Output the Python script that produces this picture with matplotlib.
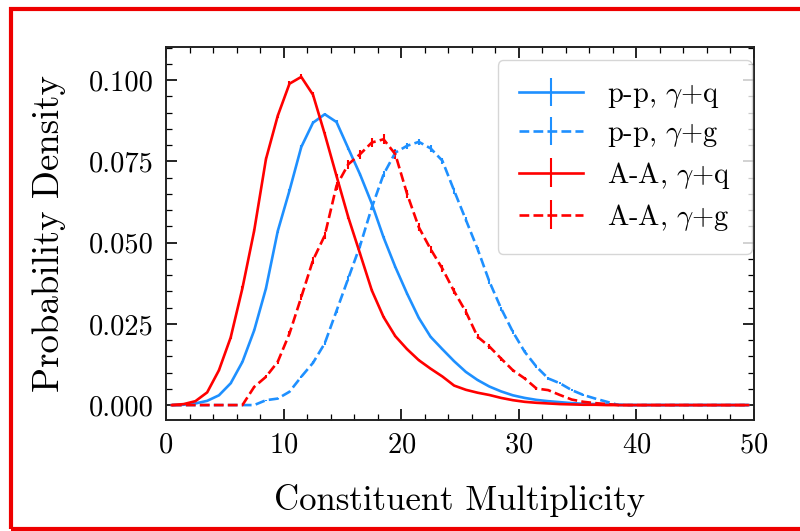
import numpy as np
import matplotlib
matplotlib.use("Agg")
import matplotlib.pyplot as plt
from matplotlib.patches import Rectangle

plt.rcParams['font.family'] = 'serif'
plt.rcParams['font.serif'] = ['cmr10', 'DejaVu Serif']
plt.rcParams['mathtext.fontset'] = 'cm'
plt.rcParams['axes.formatter.use_mathtext'] = True

# bin centres of the multiplicity histogram
mult = np.arange(0.5, 50.0, 1.0)

# p-p, gamma+q
pp_q = [0, 0.0001, 0.0005, 0.0013, 0.0030, 0.0067, 0.0133, 0.0230, 0.0359, 0.0535,
        0.0660, 0.0794, 0.0869, 0.0895, 0.0871, 0.0790, 0.0710, 0.0620, 0.0516, 0.0425,
        0.0343, 0.0268, 0.0210, 0.0172, 0.0135, 0.0102, 0.0077, 0.0057, 0.0042, 0.0030,
        0.0022, 0.0016, 0.0012, 0.0009, 0.0006, 0.0004, 0.0003, 0.0002, 0.0001, 0,
        0, 0, 0, 0, 0, 0, 0, 0, 0, 0]
pp_q_err = [0, 0, 0.0001, 0.0001, 0.0002, 0.0002, 0.0003, 0.0003, 0.0004, 0.0004,
            0.0005, 0.0005, 0.0005, 0.0005, 0.0005, 0.0005, 0.0005, 0.0004, 0.0004, 0.0004,
            0.0003, 0.0003, 0.0003, 0.0002, 0.0002, 0.0002, 0.0002, 0.0001, 0.0001, 0.0001,
            0.0001, 0.0001, 0.0001, 0, 0, 0, 0, 0, 0, 0,
            0, 0, 0, 0, 0, 0, 0, 0, 0, 0]

# p-p, gamma+g
pp_g = [0, 0, 0, 0, 0, 0, 0, 0, 0.0015, 0.0020,
        0.0041, 0.0087, 0.0130, 0.0190, 0.0290, 0.0390, 0.0490, 0.0608, 0.0710, 0.0777,
        0.0798, 0.0810, 0.0790, 0.0752, 0.0660, 0.0570, 0.0480, 0.0380, 0.0297, 0.0225,
        0.0164, 0.0118, 0.0082, 0.0067, 0.0046, 0.0031, 0.0020, 0.0010, 0, 0,
        0, 0, 0, 0, 0, 0, 0, 0, 0, 0]
pp_g_err = [0, 0, 0, 0, 0, 0, 0, 0, 0.0002, 0.0002,
            0.0003, 0.0004, 0.0005, 0.0006, 0.0007, 0.0008, 0.0008, 0.0009, 0.0009, 0.0010,
            0.0010, 0.0010, 0.0010, 0.0009, 0.0009, 0.0008, 0.0008, 0.0007, 0.0006, 0.0005,
            0.0005, 0.0004, 0.0004, 0.0003, 0.0003, 0.0002, 0.0002, 0.0001, 0, 0,
            0, 0, 0, 0, 0, 0, 0, 0, 0, 0]

# A-A, gamma+q
aa_q = [0, 0.0003, 0.0012, 0.0039, 0.0107, 0.0208, 0.0360, 0.0537, 0.0757, 0.0890,
        0.0989, 0.1010, 0.0955, 0.0834, 0.0705, 0.0578, 0.0466, 0.0353, 0.0271, 0.0212,
        0.0172, 0.0138, 0.0112, 0.0088, 0.0060, 0.0047, 0.0038, 0.0031, 0.0022, 0.0015,
        0.0010, 0.0007, 0.0005, 0.0003, 0.0002, 0.0001, 0.0001, 0, 0, 0,
        0, 0, 0, 0, 0, 0, 0, 0, 0, 0]
aa_q_err = [0, 0.0001, 0.0001, 0.0002, 0.0003, 0.0004, 0.0005, 0.0006, 0.0007, 0.0007,
            0.0008, 0.0008, 0.0007, 0.0007, 0.0006, 0.0006, 0.0005, 0.0005, 0.0004, 0.0004,
            0.0003, 0.0003, 0.0003, 0.0002, 0.0002, 0.0002, 0.0002, 0.0001, 0.0001, 0.0001,
            0.0001, 0, 0, 0, 0, 0, 0, 0, 0, 0,
            0, 0, 0, 0, 0, 0, 0, 0, 0, 0]

# A-A, gamma+g
aa_g = [0, 0, 0, 0, 0, 0, 0, 0.0056, 0.0087, 0.0133,
        0.0220, 0.0332, 0.0446, 0.0522, 0.0675, 0.0741, 0.0772, 0.0808, 0.0818, 0.0772,
        0.0650, 0.0547, 0.0480, 0.0420, 0.0350, 0.0287, 0.0210, 0.0180, 0.0143, 0.0107,
        0.0082, 0.0051, 0.0046, 0.0031, 0.0017, 0.0010, 0.0006, 0.0003, 0, 0,
        0, 0, 0, 0, 0, 0, 0, 0, 0, 0]
aa_g_err = [0, 0, 0, 0, 0, 0, 0, 0.0004, 0.0005, 0.0006,
            0.0008, 0.0009, 0.0011, 0.0012, 0.0013, 0.0014, 0.0014, 0.0015, 0.0015, 0.0014,
            0.0013, 0.0012, 0.0011, 0.0010, 0.0009, 0.0009, 0.0008, 0.0007, 0.0006, 0.0005,
            0.0005, 0.0004, 0.0003, 0.0003, 0.0002, 0.0002, 0.0001, 0.0001, 0, 0,
            0, 0, 0, 0, 0, 0, 0, 0, 0, 0]

labels = [r'p-p, $\gamma$+q', r'p-p, $\gamma$+g', r'A-A, $\gamma$+q', r'A-A, $\gamma$+g']

blue = '#1e90ff'
red = '#ff0000'

fig = plt.figure(figsize=(8.0, 5.31), dpi=100)
ax = fig.add_axes([0.2075, 0.209, 0.735, 0.7025])

ax.errorbar(mult, pp_q, yerr=pp_q_err, color=blue, lw=1.9, elinewidth=1.5, label=labels[0])
ax.errorbar(mult, pp_g, yerr=pp_g_err, color=blue, lw=1.9, elinewidth=1.5, ls='--', label=labels[1])
ax.errorbar(mult, aa_q, yerr=aa_q_err, color=red, lw=1.9, elinewidth=1.5, label=labels[2])
ax.errorbar(mult, aa_g, yerr=aa_g_err, color=red, lw=1.9, elinewidth=1.5, ls='--', label=labels[3])

ax.set_xlim(0, 50)
ax.set_ylim(-0.0046, 0.1102)
ax.set_xticks([0, 10, 20, 30, 40, 50])
ax.set_xticks(np.arange(0, 51, 2), minor=True)
ax.set_yticks([0, 0.025, 0.05, 0.075, 0.1])
ax.set_yticks(np.arange(0, 0.1101, 0.005), minor=True)
ax.set_yticklabels(['0.000', '0.025', '0.050', '0.075', '0.100'])
ax.tick_params(which='both', direction='in', top=True, right=True, labelsize=20.5, pad=9)
ax.tick_params(which='major', length=8, width=1.2)
ax.tick_params(which='minor', length=4, width=0.9)
for s in ax.spines.values():
    s.set_linewidth(1.4)
    s.set_color('#222222')

ax.set_xlabel('Constituent Multiplicity', fontsize=25, labelpad=18)
ax.set_ylabel('Probability Density', fontsize=26.5, labelpad=16)

ax.legend(loc='upper right', bbox_to_anchor=(0.9966, 0.965), borderaxespad=0,
          fontsize=20.5, handlelength=2.25, handletextpad=0.85,
          labelspacing=0.38, borderpad=0.75)

# red frame around the panel
fig.patches.append(Rectangle((11 / 800, 2 / 531), 1.2, 520 / 531, transform=fig.transFigure,
                             fill=False, edgecolor='#ee0000', lw=3.0))

fig.savefig('out.png', dpi=100)
